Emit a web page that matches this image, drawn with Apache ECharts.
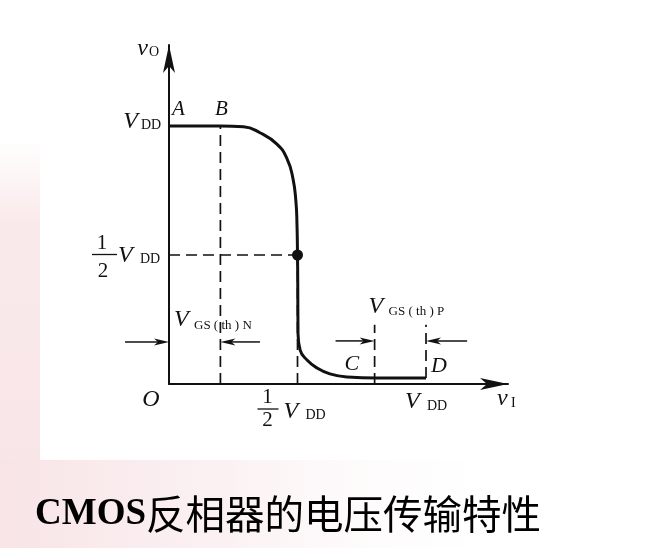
<!DOCTYPE html>
<html>
<head>
<meta charset="utf-8">
<script src="https://cdn.jsdelivr.net/npm/echarts@6/dist/echarts.min.js"></script>
<style>html,body{margin:0;padding:0;background:#fff}#c{width:662px;height:548px}</style>
</head>
<body>
<div id="c"></div>
<script>
// ---- data (VDD = 10 units) ----
const VDD = 10;
const vthN = 2;          // V_GS(th)N
const vC = 8;            // VDD - |V_GS(th)P|
const xMax = 13.19;
const yMax = 13.14;
// transfer curve v_I -> v_O
const vIn  = [0, 2, 2.9, 3.54, 4.2, 4.59, 4.82, 4.94, 4.98, 5.0, 5.01, 5.02, 5.1, 5.37, 5.76, 6.26, 6.93, 8.09, 10];
const vOut = [10, 10, 9.97, 9.74, 9.3, 8.74, 7.98, 7.05, 6.16, 5.0, 3.88, 1.98, 1.32, 0.93, 0.62, 0.39, 0.27, 0.23, 0.23];
// dashed guide lines [x0,y0,x1,y1]
const guides = [
  [vthN, 0, vthN, VDD],
  [0, VDD/2, VDD/2, VDD/2],
  [VDD/2, 0, VDD/2, VDD/2],
  [vC, 0, vC, 2.3],
  [VDD, 0.23, VDD, 2.3]
];
// dimension arrows [fromX, toX, y]
const arrows = [
  [-1.71, 0, 1.63],
  [3.54, vthN, 1.63],
  [6.48, vC, 1.67],
  [11.6, VDD, 1.67]
];
const midPoint = [VDD/2, VDD/2];

(function () {
const chart = echarts.init(document.getElementById('c'), null, {renderer: 'canvas'});
const serif = '"Liberation Serif","DejaVu Serif",serif';

const series = [];
series.push({
  type: 'line', data: vIn.map((x, i) => [x, vOut[i]]), smooth: 0.5,
  symbol: 'none', lineStyle: {color: '#111', width: 3}, z: 5, silent: true
});
guides.forEach(g => series.push({
  type: 'line', data: [[g[0], g[1]], [g[2], g[3]]], symbol: 'none', silent: true,
  lineStyle: {color: '#111', width: 1.7, type: [11, 6]}, z: 3
}));
series.push({
  type: 'scatter', data: [midPoint], symbolSize: 11, itemStyle: {color: '#111', opacity: 1}, z: 6, silent: true
});

chart.setOption({
  backgroundColor: '#fff',
  animation: false,
  grid: {left: 169, right: 154, top: 45, bottom: 164},
  xAxis: {
    type: 'value', min: 0, max: xMax, splitLine: {show: false}, axisTick: {show: false},
    axisLabel: {show: false},
    axisLine: {onZero: false, symbol: ['none', 'arrow'], symbolSize: [9, 28], lineStyle: {color: '#111', width: 2}}
  },
  yAxis: {
    type: 'value', min: 0, max: yMax, splitLine: {show: false}, axisTick: {show: false},
    axisLabel: {show: false},
    axisLine: {onZero: false, symbol: ['none', 'arrow'], symbolSize: [9, 28], lineStyle: {color: '#111', width: 2}}
  },
  series: series
});

function P(x, y) { return chart.convertToPixel({gridIndex: 0}, [x, y]); }
const g = [];
// background tint
g.push({type: 'rect', z: -10, shape: {x: 0, y: 140, width: 40, height: 408},
  style: {fill: new echarts.graphic.LinearGradient(0, 0, 0, 1, [
    {offset: 0, color: 'rgba(248,228,230,0)'}, {offset: 0.2, color: 'rgba(248,228,230,0.8)'}, {offset: 1, color: 'rgba(248,228,230,1)'}])}});
g.push({type: 'rect', z: -10, shape: {x: 0, y: 460, width: 662, height: 88},
  style: {fill: new echarts.graphic.LinearGradient(0, 0, 1, 0, [
    {offset: 0, color: 'rgba(248,228,230,1)'}, {offset: 0.35, color: 'rgba(250,238,240,0.8)'}, {offset: 0.8, color: 'rgba(255,255,255,0)'}])}});

// text helper: (x, baseline)
function T(str, x, base, size, opts) {
  opts = opts || {};
  g.push({type: 'text', z: 20, style: {
    text: str, x: x, y: base - 0.34 * size, fill: '#111',
    font: (opts.italic ? 'italic ' : '') + (opts.bold ? 'bold ' : '') + size + 'px ' + (opts.family || serif),
    align: opts.align || 'left', verticalAlign: 'middle'
  }});
}
function bar(x0, x1, y) {
  g.push({type: 'line', z: 20, shape: {x1: x0, y1: y, x2: x1, y2: y}, style: {stroke: '#111', lineWidth: 1.3}});
}

const pTop = P(0, yMax), pA = P(0, VDD), pB = P(vthN, VDD), pH = P(0, VDD/2), pO = P(0, 0);
const pHx = P(VDD/2, 0), pDx = P(VDD, 0), pEnd = P(xMax, 0), pC = P(vC, 0), pD = P(VDD, 0);
// axis names
T('v', pTop[0] - 21, pTop[1] + 12, 24, {italic: true, align: 'right'});
T('O', pTop[0] - 20, pTop[1] + 12, 14);
T('v', pEnd[0] - 11, pEnd[1] + 23, 24, {italic: true});
T('I', pEnd[0] + 3, pEnd[1] + 24, 14);
// A, B
T('A', pA[0] + 3, pA[1] - 9, 21, {italic: true});
T('B', pB[0] + 1, pB[1] - 9, 21, {italic: true, align: 'center'});
// y labels
T('V', pA[0] - 31, pA[1] + 4, 24, {italic: true, align: 'right'});
T('DD', pA[0] - 28, pA[1] + 4, 14);
T('1', pH[0] - 67, pH[1] - 4, 21, {align: 'center'});
bar(pH[0] - 77, pH[0] - 52, pH[1] - 0.5);
T('2', pH[0] - 66, pH[1] + 24, 21, {align: 'center'});
T('V', pH[0] - 51, pH[1] + 9, 24, {italic: true});
T('DD', pH[0] - 29, pH[1] + 9, 14);
// origin
T('O', pO[0] - 18, pO[1] + 24, 24, {italic: true, align: 'center'});
// x labels
T('1', pHx[0] - 30, pHx[1] + 21, 21, {align: 'center'});
bar(pHx[0] - 40, pHx[0] - 19, pHx[1] + 25);
T('2', pHx[0] - 30, pHx[1] + 44, 21, {align: 'center'});
T('V', pHx[0] - 14, pHx[1] + 36, 24, {italic: true});
T('DD', pHx[0] + 8, pHx[1] + 36, 14);
T('V', pDx[0] - 21, pDx[1] + 26, 24, {italic: true});
T('DD', pDx[0] + 1, pDx[1] + 27, 14);
// C, D
T('C', pC[0] - 30, pC[1] - 12, 22, {italic: true});
T('D', pD[0] + 5, pD[1] - 10, 22, {italic: true});
// threshold labels
const pN = P(0, 1.63), pPl = P(vC, 1.67);
T('V', pN[0] + 5, pN[1] - 14, 24, {italic: true});
T('GS ( th ) N', pN[0] + 25, pN[1] - 12, 13);
T('V', pPl[0] - 6, pPl[1] - 26, 24, {italic: true});
T('GS ( th ) P', pPl[0] + 14, pPl[1] - 25, 13);
// dimension arrows
arrows.forEach(a => {
  const s = P(a[0], a[2]), e = P(a[1], a[2]);
  const dir = e[0] > s[0] ? 1 : -1;
  g.push({type: 'line', z: 20, shape: {x1: s[0], y1: s[1], x2: e[0] - dir * 8, y2: e[1]}, style: {stroke: '#111', lineWidth: 1.5}});
  g.push({type: 'polygon', z: 21, shape: {points: [
    [e[0], e[1]], [e[0] - dir * 15, e[1] - 3.5], [e[0] - dir * 11, e[1]], [e[0] - dir * 15, e[1] + 3.5]]},
    style: {fill: '#111'}});
});
// title
g.push({type: 'text', z: 20, style: {
  text: '{a|CMOS}{b|反相器的电压传输特性}', x: 35, y: 514, verticalAlign: 'middle', align: 'left',
  rich: {
    a: {font: 'bold 37px ' + serif, fill: '#000'},
    b: {font: '39.5px "Noto Sans CJK SC"', fill: '#000'}
  }
}});
chart.setOption({graphic: {elements: g}});
})();
</script>
</body>
</html>
